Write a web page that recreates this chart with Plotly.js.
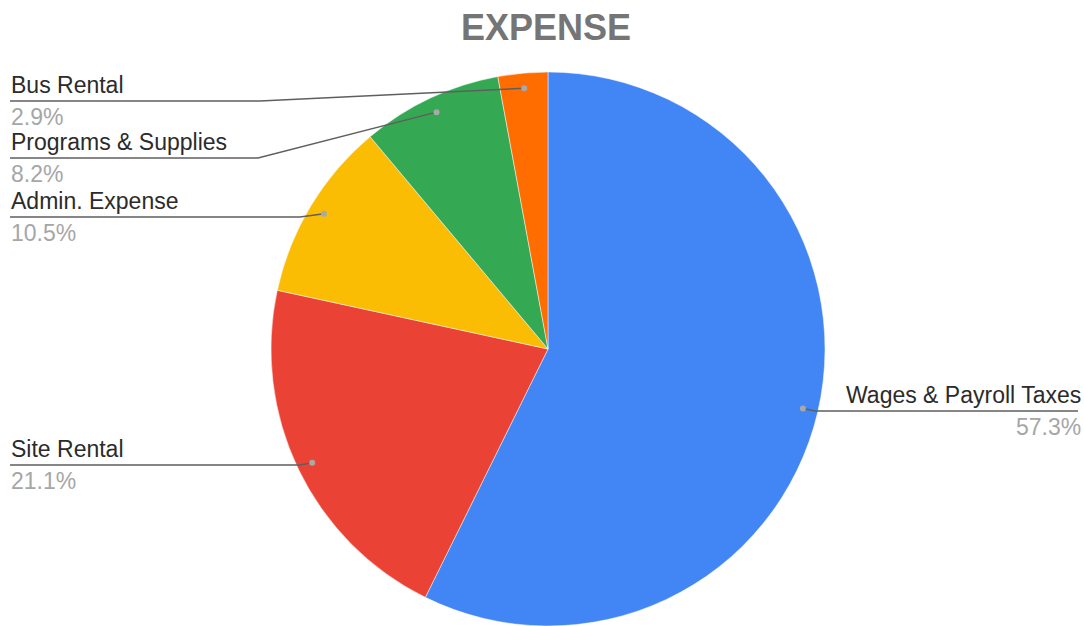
<!DOCTYPE html>
<html>
<head>
<meta charset="utf-8">
<script src="https://cdn.plot.ly/plotly-3.0.1.min.js"></script>
<style>html,body{margin:0;padding:0;background:#fff;}#chart{width:1084px;height:626px;}</style>
</head>
<body>
<div id="chart"></div>
<script>
// ---- data ----
const categories = ["Wages & Payroll Taxes", "Site Rental", "Admin. Expense", "Programs & Supplies", "Bus Rental"];
const values = [57.3, 21.1, 10.5, 8.2, 2.9];
const percentLabels = ["57.3%", "21.1%", "10.5%", "8.2%", "2.9%"];
const colors = ["#4285F4", "#EA4335", "#FBBC04", "#34A853", "#FF6D01"];

// ---- layout (pixels) ----
const W = 1084, H = 626;
const cx = 548, R = 277, cy = H - R;            // pie centre / radius in px
const dotR = 0.945 * R;                          // leader dot radius
// label placement: side, y of horizontal leader line, elbow x
const labelSide = ["right", "left", "left", "left", "left"];
const labelLineY = [411, 465, 217, 158, 101];
const elbowX = [815, 300, 300, 258, 260];

const px = x => x / W;
const py = y => 1 - y / H;

const total = values.reduce((a, b) => a + b, 0);
let cum = 0;
const shapes = [], annotations = [];
const FONT = "Liberation Sans, Arial, sans-serif";
values.forEach((v, i) => {
  const mid = (cum + v / 2) / total;
  cum += v;
  const ang = mid * 2 * Math.PI;               // clockwise from 12 o'clock
  const dx = cx + Math.sin(ang) * dotR;
  const dy = cy - Math.cos(ang) * dotR;
  const ly = labelLineY[i];
  const side = labelSide[i];
  const endX = side === "left" ? 10 : 1078;
  shapes.push({
    type: "path", xref: "paper", yref: "paper",
    path: `M ${px(endX)} ${py(ly)} L ${px(elbowX[i])} ${py(ly)} L ${px(dx)} ${py(dy)}`,
    line: {color: "#5f5f5f", width: 1.5}
  });
  shapes.push({
    type: "circle", xref: "paper", yref: "paper",
    x0: px(dx - 3), x1: px(dx + 3), y0: py(dy + 3), y1: py(dy - 3),
    fillcolor: "#a8a8a8", line: {width: 0}
  });
  const tx = side === "left" ? 9 : 1083;
  const anchor = side === "left" ? "left" : "right";
  annotations.push({
    xref: "paper", yref: "paper", x: px(tx), y: py(ly - 16),
    xanchor: anchor, yanchor: "middle", showarrow: false,
    text: categories[i], font: {family: FONT, size: 23, color: "#2b2b2b"}
  });
  annotations.push({
    xref: "paper", yref: "paper", x: px(tx), y: py(ly + 16),
    xanchor: anchor, yanchor: "middle", showarrow: false,
    text: percentLabels[i], font: {family: FONT, size: 23, color: "#a6a6a6"}
  });
});

const trace = {
  type: "pie",
  labels: categories,
  values: values,
  sort: false,
  direction: "clockwise",
  rotation: 0,
  textinfo: "none",
  hoverinfo: "label+percent",
  marker: {colors: colors, line: {color: "rgba(255,255,255,0.6)", width: 0.8}},
  domain: {x: [px(cx - R), px(cx + R)], y: [0, py(H - 2 * R)]},
  showlegend: false
};

const layout = {
  width: W, height: H,
  margin: {l: 0, r: 0, t: 0, b: 0},
  paper_bgcolor: "#ffffff",
  title: {
    text: "<b>EXPENSE</b>",
    x: px(546), xref: "paper", xanchor: "center",
    y: py(27), yref: "paper", yanchor: "middle",
    font: {family: FONT, size: 36, color: "#757575"}
  },
  shapes: shapes,
  annotations: annotations,
  showlegend: false
};

Plotly.newPlot("chart", [trace], layout, {displayModeBar: false, staticPlot: true});
</script>
</body>
</html>
